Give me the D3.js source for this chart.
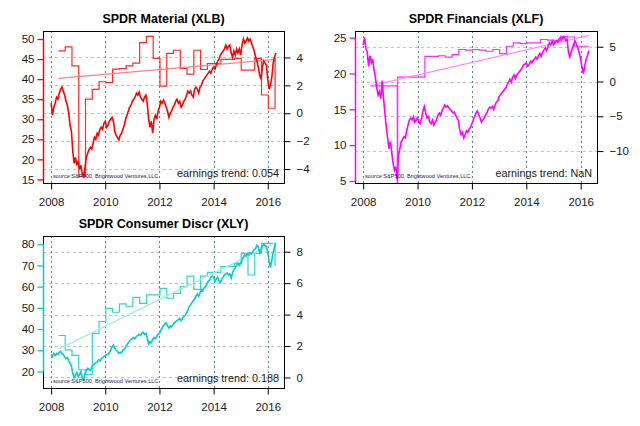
<!DOCTYPE html>
<html><head><meta charset="utf-8">
<script src="https://cdn.jsdelivr.net/npm/d3@7"></script>
<style>
body{margin:0;background:#fff;}
svg{display:block;font-family:"Liberation Sans",Arial,sans-serif;}
</style></head><body>
<svg id="c" width="640" height="426"></svg>
<script>
// ---------- DATA ----------
const priceStart = 2008.0, priceStep = 0.05;   // time index of price series
const quarterDates = [2008.27,2008.52,2008.77,2009.02,2009.27,2009.52,2009.77,2010.02,2010.27,2010.52,2010.77,
 2011.02,2011.27,2011.52,2011.77,2012.02,2012.27,2012.52,2012.77,2013.02,2013.27,2013.52,2013.77,
 2014.02,2014.27,2014.52,2014.77,2015.02,2015.27,2015.52,2015.77,2016.02,2016.27];
const earnEnd = 2016.30;
const xlfEarnDates = [2008.27,2008.52,2008.77,2009.02,2009.255,2009.27,2009.52,2009.77,2010.02,2010.27,2010.52,2010.77,
 2011.02,2011.27,2011.52,2011.77,2012.02,2012.27,2012.52,2012.77,2013.02,2013.27,2013.52,2013.77,
 2014.02,2014.27,2014.52,2014.77,2015.02,2015.27,2015.52,2015.77,2016.02,2016.27];
const yearTicks = [2008, 2010, 2012, 2014, 2016];

const titles = ["SPDR Material (XLB)", "SPDR Financials (XLF)", "SPDR Consumer Discr (XLY)"];
const trendLabels = ["earnings trend: 0.054", "earnings trend: NaN", "earnings trend: 0.188"];
const sourceLabel = "source:S&P500, Brightwood Ventures,LLC";

const xlbPrice = [34,31,33,34,35.5,35,36.5,37.5,38,37,36,34.5,33.5,31.5,28.5,27,22,19,20.5,18.5,
 19.5,17.5,18.5,16.5,15.8,18,20.5,21.5,22.5,23,22.5,24,25.5,25,26.5,26,27.5,28,27.5,29,
 29.5,28,28.5,29.5,30,30.5,29.5,27,26,25.5,24.8,26,26.5,27.5,28.5,30,31,32,33,33.5,
 34.5,35,35.5,36.5,36,36.8,35.5,35,34.5,35.5,36,34,30,28,29.5,26.5,30,31,30,32,
 33,34.5,34,34.8,34,33,32,30.5,31.5,32,33,33.5,34.5,35,34,34.5,33,33.5,34.5,35,
 36,37,36.5,37,36,35.5,37.5,38,37.5,36.5,38,38.5,39.5,40,40.5,41,41.5,42,41.5,42.5,
 43,42.5,43.5,44.5,45,46,46.5,47,47.5,48.5,47.5,48.2,48.5,46.5,45.5,47,46,47.5,46.5,47.5,
 46,48.5,50,49,49.5,50.3,49.5,50,49,48,47,45.5,44.5,43,41,40,43,44.5,44,43.5,
 40,37.5,38.5,40.5,44,45.5,46.5];
const xlfPrice = [24,25,23.5,23,21,22.5,21.5,22,20.5,19.5,18,17,17.5,16.5,19,16.5,14.5,12.5,11,9.5,
 10.5,9,7.5,6.5,7,5.2,8.5,9.5,10.5,10.8,11.2,11,12,12.8,13.5,13.8,13.5,14,13.2,13.5,
 13.8,13.2,13,13.8,14.8,15.4,14.5,13.8,14,13.2,13,13.5,12.8,13.2,13.5,14.2,14.5,14.2,14.8,15.2,
 15.6,15.3,15.5,15.2,15,14.8,14.5,14.6,14.2,13.8,13.5,12.2,11.5,11.8,11,11.5,12,11.8,12.3,12.5,
 13,13.5,14,14.5,14.8,14.2,13.8,13.2,13.5,13.8,14.2,14.5,15,15.3,15.2,15.4,15,15.6,16,16.2,
 16.8,17,17.3,17.5,17.8,18,18.5,18.8,19.2,18.8,19.5,19.8,19.3,19.8,20,20.3,20.5,20.8,21.2,21.3,
 21.5,21,21.2,21.7,21.5,21.8,22,22.3,22,22.5,22.8,22.4,23,23.3,23.6,23.2,23.8,24.3,24,24.5,
 24,24.3,24.6,24.4,24.8,25,24.7,25.1,25,24.6,24.8,23,22.3,23,23.6,24.2,24.5,24,23.5,22.8,
 22,20.8,20,21,22,22.5,23.2];
const xlyPrice = [28,27,28.5,27.5,28.5,28,29,29.5,28.5,28,27,26,26.5,25,24,22.5,19,17,18.5,19.5,
 17.5,18.5,20,17,16.2,19,20.5,21.5,21,20.5,22,23,23.5,24,24.5,25.5,25,26,26.5,27,
 27.5,28,28,29,30,31.5,32.5,31,30,29.5,28.5,29,28.8,30,30.5,31.5,32.5,33.5,34.5,35,
 35.5,36,35.5,36.5,37,37.5,37,38,38.5,37.5,38,36,33,34,33.5,35,36,35.5,36.5,37.5,
 38,39.5,40.5,41.5,42.5,43,41.5,40.5,41.5,41,42,43,43.5,44,44.5,45,44,45,46,46.5,
 47.5,49,50.5,51.5,52.5,53.5,54,55.5,56.5,55.5,57,58.5,58,59.5,60,61,62.5,63,64.5,65,
 64.5,62.5,63.5,64.5,63,62,63.5,64.5,65.5,66,66.5,65.5,66,64,66.5,68,69,70,71,70,
 71,72.5,74,75,74.5,75.5,75,76,75.5,76.5,77.5,78,79.5,79,76,77.5,79,80,79.5,79,
 76,72,69,72.5,76,79,80.5];

const xlbEarn = [4.48,4.76,3.40,-4.52,1.02,1.71,2.26,2.20,3.17,3.20,3.40,3.60,5.07,5.52,3.93,1.95,
 4.29,4.52,3.21,2.81,4.52,3.14,3.57,3.57,3.86,3.86,3.93,3.10,3.10,3.93,1.31,0.36,3.93];
const xlfEarn = [-0.63,-0.63,-0.63,-0.63,-60,0.63,0.63,0.63,0.63,3.62,3.62,3.70,3.50,3.85,4.60,4.50,4.60,
 4.50,4.35,4.60,4.00,5.07,5.56,5.45,5.56,5.56,6.04,5.95,5.80,6.50,6.40,5.07,5.07,5.07];
const xlyEarn = [2.67,1.76,1.40,0.49,0.20,2.81,3.56,4.40,4.15,4.68,4.50,5.10,4.72,5.25,5.25,5.67,
 5.04,5.35,5.78,6.45,5.61,6.45,6.69,6.69,7.05,7.05,7.26,7.89,6.52,7.89,8.53,8.53,7.15];

const xlbTrend = [2.50, 3.86];
const xlfTrend = [-0.63, 6.62];
const xlyTrend = [1.80, 8.59];

const xlbLeftTicks = [15,20,25,30,35,40,45,50];
const xlfLeftTicks = [5,10,15,20,25];
const xlyLeftTicks = [20,30,40,50,60,70,80];
const xlbRightTicks = [-4,-2,0,2,4];
const xlfRightTicks = [-10,-5,0,5];
const xlyRightTicks = [0,2,4,6,8];

// ---------- LAYOUT ----------
const panels = [
 {title:titles[0], trendLabel:trendLabels[0], price:xlbPrice, earn:xlbEarn, edates:quarterDates, trend:xlbTrend,
  lt:xlbLeftTicks, rt:xlbRightTicks, box:[43,31,284,183], ld:[14.1,52.0], rd:[-5.0,5.9],
  col:"#ff0000", scol:"#ff2b2b", tcol:"#ff8080"},
 {title:titles[1], trendLabel:trendLabels[1], price:xlfPrice, earn:xlfEarn, edates:xlfEarnDates, trend:xlfTrend,
  lt:xlfLeftTicks, rt:xlfRightTicks, box:[355,31,597,183], ld:[4.72,25.93], rd:[-14.59,7.26],
  col:"#ff00ff", scol:"#ff2bff", tcol:"#ff88ff"},
 {title:titles[2], trendLabel:trendLabels[2], price:xlyPrice, earn:xlyEarn, edates:quarterDates, trend:xlyTrend,
  lt:xlyLeftTicks, rt:xlyRightTicks, box:[43,236,284,388], ld:[12.2,83.9], rd:[-0.67,9.0],
  col:"#00cdcd", scol:"#30d5d0", tcol:"#a0ecec"}
];

const svg = d3.select("#c");
const txt = "#1a1a1a";

panels.forEach((p, i) => {
  const [x0,y0,x1,y1] = p.box;
  const x = d3.scaleLinear().domain([2007.70, 2016.60]).range([x0,x1]);
  const yL = d3.scaleLinear().domain(p.ld).range([y1,y0]);
  const yR = d3.scaleLinear().domain(p.rd).range([y1,y0]);
  const g = svg.append("g");
  const cid = "clip"+i;
  svg.append("clipPath").attr("id",cid).append("rect")
    .attr("x",x0).attr("y",y0).attr("width",x1-x0).attr("height",y1-y0);

  g.selectAll(".hg").data(p.rt).enter().append("line")
    .attr("x1",x0).attr("x2",x1).attr("y1",d=>Math.round(yR(d))+0.5).attr("y2",d=>Math.round(yR(d))+0.5)
    .attr("stroke","#c4c4c4").attr("stroke-dasharray","3,3").attr("stroke-width",1);
  g.selectAll(".vg").data(yearTicks).enter().append("line")
    .attr("x1",d=>Math.round(x(d))+0.5).attr("x2",d=>Math.round(x(d))+0.5).attr("y1",y0).attr("y2",y1)
    .attr("stroke","#5a8788").attr("stroke-dasharray","2,3").attr("stroke-width",1);

  const pg = g.append("g").attr("clip-path",`url(#${cid})`);
  const ePts = p.earn.map((v,k)=>[p.edates[k], v]);
  ePts.push([earnEnd, p.earn[p.earn.length-1]]);
  pg.append("path").datum(ePts)
    .attr("d", d3.line().x(d=>x(d[0])).y(d=>yR(d[1])).curve(d3.curveStepAfter))
    .attr("fill","none").attr("stroke",p.scol).attr("stroke-width",1.2);
  pg.append("path").datum([[p.edates[0],p.trend[0]],[earnEnd,p.trend[1]]])
    .attr("d", d3.line().x(d=>x(d[0])).y(d=>yR(d[1])))
    .attr("fill","none").attr("stroke",p.tcol).attr("stroke-width",1.3);
  const pPts = p.price.map((v,k)=>[priceStart+k*priceStep, v]);
  pg.append("path").datum(pPts)
    .attr("d", d3.line().x(d=>x(d[0])).y(d=>yL(d[1])))
    .attr("fill","none").attr("stroke",p.col).attr("stroke-width",1.6).attr("stroke-linejoin","miter");

  g.append("rect").attr("x",x0+0.5).attr("y",y0+0.5).attr("width",x1-x0).attr("height",y1-y0)
    .attr("fill","none").attr("stroke","#000").attr("stroke-width",1);

  const la = g.append("g").attr("transform",`translate(${x0+0.5},0)`)
    .call(d3.axisLeft(yL).tickValues(p.lt).tickSize(6).tickPadding(3).tickFormat(d3.format("d")));
  la.select(".domain").remove();
  la.selectAll(".tick line").attr("stroke",p.col).attr("stroke-width",1.3);
  la.selectAll("text").attr("fill",txt).style("font-size","11.5px").style("font-family","Liberation Sans, Arial");
  g.append("line").attr("x1",x0+0.5).attr("x2",x0+0.5)
    .attr("y1",yL(d3.min(p.lt))).attr("y2",yL(d3.max(p.lt)))
    .attr("stroke",p.col).attr("stroke-width",1.5);

  const ra = g.append("g").attr("transform",`translate(${x1+0.5},0)`)
    .call(d3.axisRight(yR).tickValues(p.rt).tickSize(6).tickPadding(6).tickFormat(d3.format("d")));
  ra.select(".domain").remove();
  ra.selectAll(".tick line").attr("stroke","#000");
  ra.selectAll("text").attr("fill",txt).style("font-size","11.5px").style("font-family","Liberation Sans, Arial");

  const ba = g.append("g").attr("transform",`translate(0,${y1+0.5})`)
    .call(d3.axisBottom(x).tickValues(yearTicks).tickSize(6).tickPadding(8).tickFormat(d3.format("d")));
  ba.select(".domain").remove();
  ba.selectAll(".tick line").attr("stroke","#000");
  ba.selectAll("text").attr("fill",txt).style("font-size","11.5px").style("font-family","Liberation Sans, Arial");

  g.append("text").attr("x",(x0+x1)/2).attr("y",y0-8).attr("text-anchor","middle")
    .attr("font-weight","bold").attr("font-size","12.5px").attr("fill","#000").text(p.title);
  g.append("text").attr("x",x0+10).attr("y",y1-5).attr("font-size","5.6px").attr("fill","#1a1a50").text(sourceLabel);
  g.append("text").attr("x",x1-5).attr("y",y1-6.5).attr("text-anchor","end")
    .attr("font-size","10.8px").attr("fill",txt).text(p.trendLabel);
});
</script>
</body></html>
